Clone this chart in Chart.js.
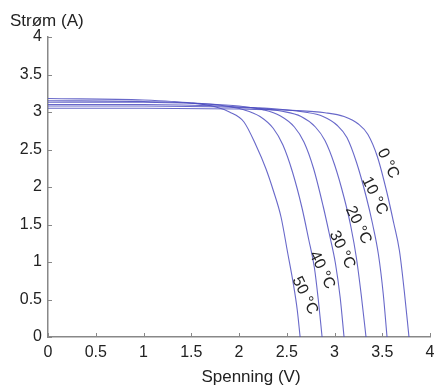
<!DOCTYPE html>
<html>
<head>
<meta charset="utf-8">
<script src="https://cdn.jsdelivr.net/npm/chart.js@4"></script>
<style>
  html, body { margin: 0; padding: 0; background: #fff; }
  #wrap { width: 435px; height: 385px; }
</style>
</head>
<body>
<div id="wrap"><canvas id="ivChart" width="435" height="385"></canvas></div>
<script>
// temperature labels, one per curve
var tempLabels = ['0 °C', '10 °C', '20 °C', '30 °C', '40 °C', '50 °C'];

// voltage (V) and current (A)
var volts0  = [0, 1.0, 2.0, 2.6, 2.9, 3.1, 3.25, 3.35, 3.45, 3.55, 3.62, 3.68, 3.73, 3.78];
var amps0   = [3.05, 3.05, 3.04, 3.02, 2.99, 2.94, 2.84, 2.70, 2.40, 1.92, 1.52, 1.15, 0.62, 0];
var volts10 = [0, 1.0, 2.0, 2.4, 2.68, 2.88, 3.03, 3.13, 3.23, 3.33, 3.40, 3.46, 3.51, 3.55];
var amps10  = [3.08, 3.08, 3.06, 3.04, 3.00, 2.94, 2.82, 2.66, 2.33, 1.88, 1.50, 1.10, 0.58, 0];
var volts20 = [0, 1.0, 1.8, 2.2, 2.45, 2.65, 2.80, 2.90, 3.00, 3.10, 3.17, 3.23, 3.28, 3.33];
var amps20  = [3.10, 3.10, 3.08, 3.05, 3.01, 2.94, 2.80, 2.62, 2.30, 1.86, 1.48, 1.05, 0.56, 0];
var volts30 = [0, 1.0, 1.6, 2.0, 2.25, 2.43, 2.58, 2.68, 2.78, 2.88, 2.95, 3.01, 3.06, 3.10];
var amps30  = [3.13, 3.13, 3.11, 3.08, 3.03, 2.95, 2.80, 2.60, 2.25, 1.75, 1.35, 0.98, 0.52, 0];
var volts40 = [0, 1.0, 1.5, 1.8, 2.05, 2.22, 2.36, 2.46, 2.56, 2.66, 2.73, 2.79, 2.83, 2.87];
var amps40  = [3.15, 3.14, 3.12, 3.09, 3.03, 2.94, 2.78, 2.56, 2.20, 1.72, 1.30, 0.92, 0.50, 0];
var volts50 = [0, 1.0, 1.5, 1.75, 1.9, 2.05, 2.18, 2.28, 2.36, 2.44, 2.51, 2.57, 2.61, 2.64];
var amps50  = [3.18, 3.16, 3.12, 3.07, 3.00, 2.87, 2.55, 2.25, 1.95, 1.60, 1.12, 0.70, 0.36, 0];

var xTicks = [0, 0.5, 1, 1.5, 2, 2.5, 3, 3.5, 4];
var yTicks = [0, 0.5, 1, 1.5, 2, 2.5, 3, 3.5, 4];

var FONT = '"Liberation Sans", Arial, Helvetica, sans-serif';
var lineColor = 'rgba(78, 78, 192, 0.85)';

var toPoints = function(vs, is) {
    return vs.map(function(v, i) { return { x: v, y: is[i] }; });
};

var curves = [
    toPoints(volts0, amps0), toPoints(volts10, amps10), toPoints(volts20, amps20),
    toPoints(volts30, amps30), toPoints(volts40, amps40), toPoints(volts50, amps50)
];

// where the rotated temperature labels sit, in data units
var labelSpots = [
    { x: 3.56, y: 2.31 }, { x: 3.42, y: 1.88 }, { x: 3.25, y: 1.49 },
    { x: 3.08, y: 1.16 }, { x: 2.87, y: 0.89 }, { x: 2.69, y: 0.55 }
];

var matlabBits = {
    id: 'matlabBits',
    afterDraw: function(chart) {
        var ctx = chart.ctx;
        var xs = chart.scales.x, ys = chart.scales.y;
        var area = chart.chartArea;
        ctx.save();
        // inward tick marks
        ctx.strokeStyle = '#888';
        ctx.lineWidth = 1;
        ctx.beginPath();
        xTicks.forEach(function(t) {
            var px = Math.round(xs.getPixelForValue(t)) + 0.5;
            ctx.moveTo(px, area.bottom);
            ctx.lineTo(px, area.bottom - 4);
        });
        yTicks.forEach(function(t) {
            var py = Math.round(ys.getPixelForValue(t)) + 0.5;
            ctx.moveTo(area.left, py);
            ctx.lineTo(area.left + 4, py);
        });
        ctx.stroke();

        // curve labels
        ctx.fillStyle = '#222';
        ctx.font = '16px ' + FONT;
        ctx.textAlign = 'center';
        ctx.textBaseline = 'middle';
        tempLabels.forEach(function(lbl, i) {
            var p = labelSpots[i];
            ctx.save();
            ctx.translate(xs.getPixelForValue(p.x), ys.getPixelForValue(p.y));
            ctx.rotate(64 * Math.PI / 180);
            ctx.fillText(lbl, 0, 0);
            ctx.restore();
        });

        // axis titles
        ctx.font = '17px ' + FONT;
        ctx.textAlign = 'left';
        ctx.fillText('Strøm (A)', 10, 21);
        ctx.textAlign = 'center';
        ctx.fillText('Spenning (V)', 251, 377);
        ctx.restore();
    }
};

var plainNum = function(v) { return String(v); };

var ctx = document.getElementById('ivChart').getContext('2d');
var ivChart = new Chart(ctx, {
    type: 'line',
    data: {
        datasets: curves.map(function(pts, i) {
            return {
                label: tempLabels[i],
                data: pts,
                borderColor: lineColor,
                borderWidth: 1.1,
                pointRadius: 0,
                fill: false,
                cubicInterpolationMode: 'monotone'
            };
        })
    },
    options: {
        responsive: false,
        animation: false,
        layout: { padding: { top: 37, right: 0, left: 0, bottom: 0 } },
        plugins: { legend: { display: false }, tooltip: { enabled: false } },
        scales: {
            x: {
                type: 'linear',
                min: 0, max: 4,
                afterFit: function(s) { s.height = 48; s.paddingRight = 5; s.paddingLeft = 0; },
                afterBuildTicks: function(s) { s.ticks = xTicks.map(function(v) { return { value: v }; }); },
                ticks: { color: '#222', font: { size: 16, family: FONT }, padding: 6, maxRotation: 0, autoSkip: false, callback: plainNum },
                grid: { drawOnChartArea: false, drawTicks: false },
                border: { color: '#888', width: 1.5 }
            },
            y: {
                type: 'linear',
                min: 0, max: 4,
                afterFit: function(s) { s.width = 48; s.paddingTop = 0; s.paddingBottom = 0; },
                afterBuildTicks: function(s) { s.ticks = yTicks.map(function(v) { return { value: v }; }); },
                ticks: { color: '#222', font: { size: 16, family: FONT }, padding: 6, autoSkip: false, callback: plainNum },
                grid: { drawOnChartArea: false, drawTicks: false },
                border: { color: '#888', width: 1.5 }
            }
        }
    },
    plugins: [matlabBits]
});
</script>
</body>
</html>
